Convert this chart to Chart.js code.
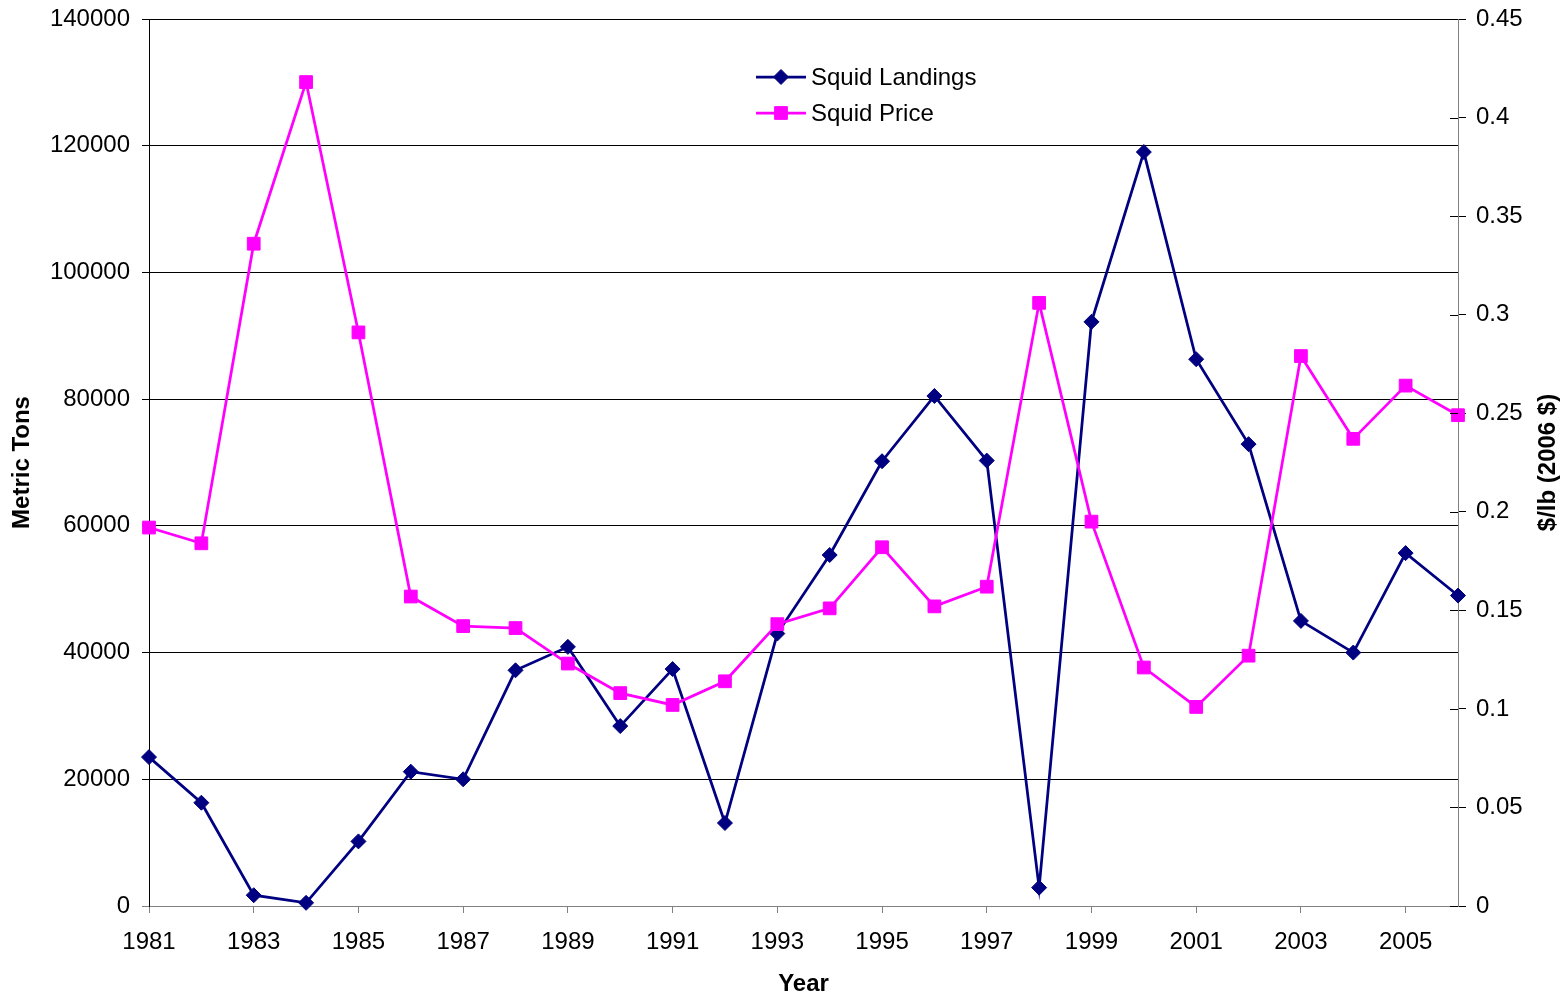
<!DOCTYPE html>
<html>
<head>
<meta charset="utf-8">
<script src="https://cdn.jsdelivr.net/npm/chart.js@4.4.1/dist/chart.umd.min.js"></script>
<style>
  html, body { margin: 0; padding: 0; background: #ffffff; }
  #wrap { width: 1568px; height: 998px; position: relative; }
</style>
</head>
<body>
<div id="wrap"><canvas id="c"></canvas></div>
<script>
const years = [1981, 1982, 1983, 1984, 1985, 1986, 1987, 1988, 1989, 1990, 1991, 1992, 1993,
               1994, 1995, 1996, 1997, 1998, 1999, 2000, 2001, 2002, 2003, 2004, 2005, 2006];
const squidLandings = [23500, 16300, 1700, 500, 10200, 21200, 20000, 37200, 40900, 28400, 37400, 13100, 43000,
                       55400, 70200, 80500, 70300, 2900, 92200, 119000, 86300, 72900, 45000, 40000, 55700, 49000];
const squidPrice = [0.192, 0.184, 0.336, 0.418, 0.291, 0.157, 0.142, 0.141, 0.123, 0.108, 0.102, 0.114, 0.143,
                    0.151, 0.182, 0.152, 0.162, 0.306, 0.195, 0.121, 0.101, 0.127, 0.279, 0.237, 0.264, 0.249];
const xTickYears = [1981, 1983, 1985, 1987, 1989, 1991, 1993, 1995, 1997, 1999, 2001, 2003, 2005];
const leftTitle = 'Metric Tons';
const rightTitle = '$/lb (2006 $)';
const xTitle = 'Year';

const FONT = 'Liberation Sans, Arial, Helvetica, sans-serif';

const extrasPlugin = {
  id: 'extras',
  afterDraw(chart) {
    const ctx = chart.ctx;
    const area = chart.chartArea;
    const y2 = chart.scales.y2;
    ctx.save();
    // inward tick marks on right axis
    ctx.strokeStyle = '#000000';
    ctx.lineWidth = 1;
    y2.ticks.forEach(t => {
      const py = Math.round(y2.getPixelForValue(t.value)) + 0.5;
      ctx.beginPath();
      ctx.moveTo(area.right - 8, py);
      ctx.lineTo(area.right, py);
      ctx.stroke();
    });
    // right axis title, reading bottom to top
    ctx.fillStyle = '#000000';
    ctx.font = 'bold 24px ' + FONT;
    ctx.textAlign = 'center';
    ctx.textBaseline = 'middle';
    ctx.translate(1548, (area.top + area.bottom) / 2);
    ctx.rotate(-Math.PI / 2);
    ctx.fillText(rightTitle, 0, 0);
    ctx.restore();

    // legend inside plot area
    ctx.save();
    const rows = [77, 113];
    chart.data.datasets.forEach((ds, i) => {
      const y = rows[i];
      ctx.strokeStyle = ds.borderColor;
      ctx.lineWidth = ds.borderWidth;
      ctx.beginPath();
      ctx.moveTo(756, y);
      ctx.lineTo(806, y);
      ctx.stroke();
      ctx.fillStyle = ds.pointBackgroundColor;
      ctx.strokeStyle = ds.pointBorderColor;
      ctx.lineWidth = ds.pointBorderWidth;
      Chart.helpers.drawPoint(ctx, {
        pointStyle: ds.pointStyle,
        radius: ds.pointRadius,
        rotation: 0,
        borderWidth: ds.pointBorderWidth
      }, 781, y);
      ctx.fillStyle = '#000000';
      ctx.font = '24px ' + FONT;
      ctx.textAlign = 'left';
      ctx.textBaseline = 'middle';
      ctx.fillText(ds.label, 811, y + 1);
    });
    ctx.restore();
  }
};

new Chart(document.getElementById('c'), {
  type: 'line',
  data: {
    labels: years,
    datasets: [
      {
        label: 'Squid Landings',
        data: squidLandings,
        yAxisID: 'y',
        borderColor: '#000080',
        backgroundColor: '#000080',
        borderWidth: 2.75,
        pointStyle: 'rectRot',
        pointRadius: 7.5,
        pointBackgroundColor: '#000080',
        pointBorderColor: '#000080',
        pointBorderWidth: 1,
        tension: 0,
        clip: false,
        order: 2
      },
      {
        label: 'Squid Price',
        data: squidPrice,
        yAxisID: 'y2',
        borderColor: '#FF00FF',
        backgroundColor: '#FF00FF',
        borderWidth: 2.75,
        pointStyle: 'rect',
        pointRadius: 9,
        pointBackgroundColor: '#FF00FF',
        pointBorderColor: '#FF00FF',
        pointBorderWidth: 1,
        tension: 0,
        clip: false,
        order: 1
      }
    ]
  },
  options: {
    responsive: true,
    maintainAspectRatio: false,
    animation: false,
    layout: { padding: { top: 19, left: 0, right: 0, bottom: 0 } },
    plugins: {
      legend: { display: false },
      tooltip: { enabled: false },
      title: { display: false }
    },
    scales: {
      x: {
        type: 'linear',
        position: 'bottom',
        min: 1981,
        max: 2006,
        afterBuildTicks: s => { s.ticks = xTickYears.map(v => ({ value: v })); },
        afterFit: s => { s.height = 92; s.paddingLeft = 0; s.paddingRight = 0; },
        grid: {
          drawOnChartArea: false,
          drawTicks: true,
          tickLength: 7,
          tickColor: '#808080'
        },
        border: { display: true, color: '#808080', width: 1 },
        ticks: {
          autoSkip: false,
          maxRotation: 0,
          padding: 15,
          color: '#000000',
          font: { family: FONT, size: 24 },
          callback: v => String(v)
        },
        title: {
          display: true,
          text: xTitle,
          color: '#000000',
          font: { family: FONT, size: 24, weight: 'bold' },
          padding: { top: 0, bottom: -1 }
        }
      },
      y: {
        type: 'linear',
        position: 'left',
        min: 0,
        max: 140000,
        afterFit: s => { s.width = 149; s.paddingTop = 0; s.paddingBottom = 0; },
        grid: {
          color: c => (c.tick && c.tick.value === 0) ? '#808080' : '#000000',
          tickColor: c => (c.tick && c.tick.value === 0) ? '#808080' : '#000000',
          lineWidth: 1,
          drawTicks: true,
          tickLength: 7
        },
        border: { display: true, color: '#000000', width: 1 },
        ticks: {
          stepSize: 20000,
          padding: 12,
          color: '#000000',
          font: { family: FONT, size: 24 },
          callback: v => String(v)
        },
        title: {
          display: true,
          text: leftTitle,
          color: '#000000',
          font: { family: FONT, size: 24, weight: 'bold' },
          padding: { top: 8, bottom: 0 }
        }
      },
      y2: {
        type: 'linear',
        position: 'right',
        min: 0,
        max: 0.45,
        afterFit: s => { s.width = 110; s.paddingTop = 0; s.paddingBottom = 0; },
        grid: {
          drawOnChartArea: false,
          drawTicks: true,
          tickLength: 8,
          tickColor: '#000000'
        },
        border: { display: true, color: '#808080', width: 1 },
        ticks: {
          stepSize: 0.05,
          padding: 10,
          color: '#000000',
          font: { family: FONT, size: 24 },
          callback: v => String(+Number(v).toFixed(2))
        },
        title: { display: false }
      }
    }
  },
  plugins: [extrasPlugin]
});
</script>
</body>
</html>
